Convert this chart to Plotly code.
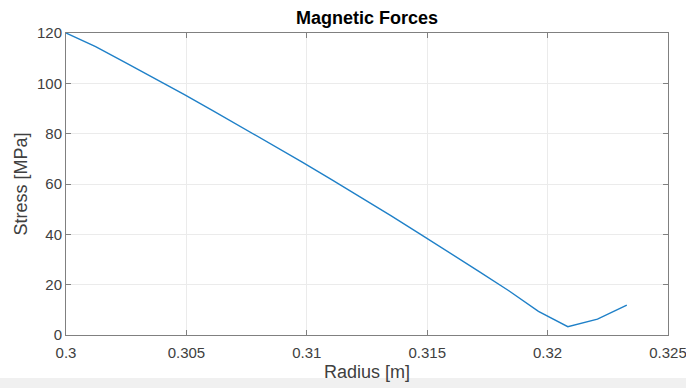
import plotly.graph_objects as go

radius = [0.3000, 0.30123, 0.30245, 0.30368, 0.30490, 0.30613, 0.30736, 0.30858,
          0.30981, 0.31103, 0.31226, 0.31349, 0.31471, 0.31594, 0.31716, 0.31839,
          0.31962, 0.32084, 0.32207, 0.32329]
stress = [120.0, 114.6, 108.3, 102.0, 95.6, 89.0, 82.3, 75.6,
          68.7, 61.7, 54.6, 47.4, 40.1, 32.7, 25.2, 17.6,
          9.4, 3.3, 6.3, 11.9]
x_ticks = [0.3, 0.305, 0.31, 0.315, 0.32, 0.325]
x_tick_labels = ["0.3", "0.305", "0.31", "0.315", "0.32", "0.325"]
y_ticks = [0, 20, 40, 60, 80, 100, 120]

fig = go.Figure()
fig.add_trace(go.Scatter(x=radius, y=stress, mode="lines",
                         line=dict(color="#1f80c8", width=1.4), showlegend=False))

axis_common = dict(showline=True, linecolor="#808080", linewidth=1, mirror="ticks",
                   ticks="inside", ticklen=5, tickcolor="#808080", automargin=False,
                   showgrid=True, gridcolor="#ebebeb", gridwidth=1, zeroline=False,
                   ticklabeloverflow="allow",
                   tickfont=dict(family="Liberation Sans, Arial", size=15, color="#404040"))

fig.update_xaxes(range=[0.3, 0.325], tickvals=x_ticks, ticktext=x_tick_labels,
                 ticklabelstandoff=4,
                 title=dict(text="Radius [m]", standoff=5,
                            font=dict(family="Liberation Sans, Arial", size=18, color="#404040")),
                 **axis_common)
fig.update_yaxes(range=[0, 120], tickvals=y_ticks,
                 title=dict(text="Stress [MPa]", standoff=4,
                            font=dict(family="Liberation Sans, Arial", size=18, color="#404040")),
                 **axis_common)

fig.update_layout(
    width=686, height=388,
    margin=dict(l=66, r=18, t=33, b=53, autoexpand=False),
    paper_bgcolor="white", plot_bgcolor="white",
    title=dict(text="<b>Magnetic Forces</b>", x=0.535, xanchor="center",
               y=1 - 18 / 388, yanchor="middle",
               font=dict(family="Liberation Sans, Arial", size=18, color="#000000")),
    shapes=[dict(type="rect", xref="paper", yref="paper", x0=-0.2, x1=1.1, y0=-0.2, y1=-0.142,
                 fillcolor="#f0f0f0", line=dict(width=0), layer="below")],
)

fig.write_html("out.html", config={"displayModeBar": False},
               post_script="document.body.style.margin='0';document.body.style.overflow='hidden';")
